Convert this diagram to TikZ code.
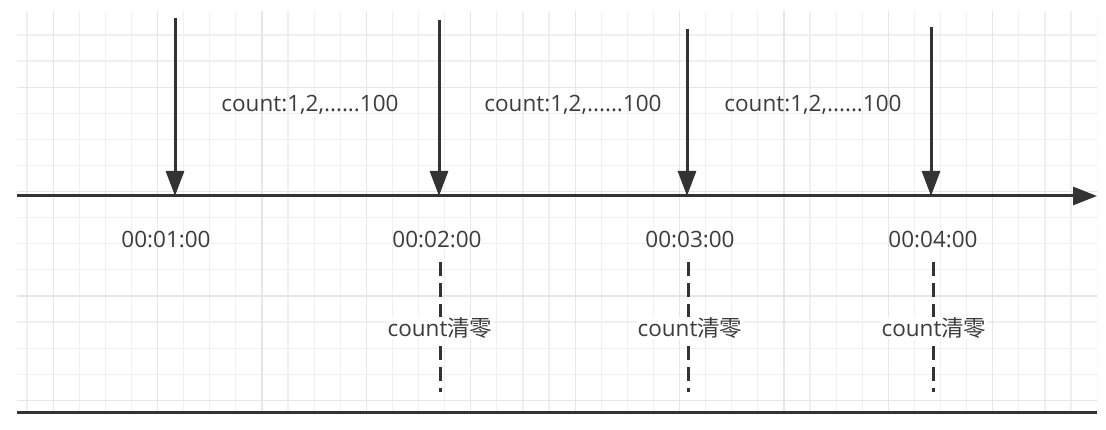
\documentclass[tikz,border=0pt]{standalone}
\usepackage{fontspec}
\setmainfont{Open Sans}
\newfontfamily\cjk{Noto Sans CJK SC}
\usetikzlibrary{arrows.meta}
\definecolor{ink}{HTML}{333333}
\definecolor{txt}{HTML}{3C3C3C}
\definecolor{gridminor}{HTML}{F0F0F0}
\definecolor{gridmajor}{HTML}{E6E6E6}
\tikzset{
  arr/.style={draw=ink, line width=3pt, -{Triangle[length=25pt,width=18pt]}},
  axisline/.style={draw=ink, line width=3pt, -{Triangle[length=24pt,width=18pt]}},
  resetline/.style={draw=ink, line width=3pt, dash pattern=on 14pt off 7pt},
  lbl/.style={text=txt, font=\fontsize{22.5}{27}\selectfont, inner sep=2pt},
  resetlbl/.style={lbl, fill=white, inner sep=1pt},
}
\begin{document}
\begin{tikzpicture}[x=1pt,y=-1pt]
\useasboundingbox (0,0) rectangle (1106,430);
% grid
\begin{scope}
\clip (17,11) rectangle (1097,412);
\foreach \k in {0,...,41} {
  \pgfmathsetmacro{\xx}{27+26.1*\k}
  \draw[gridminor, line width=1.2pt] (\xx,11) -- (\xx,412);
}
\foreach \k in {0,...,14} {
  \pgfmathsetmacro{\yy}{35+26.1*\k}
  \draw[gridminor, line width=1.2pt] (17,\yy) -- (1097,\yy);
}
\foreach \k in {1,5,...,41} {
  \pgfmathsetmacro{\xx}{27+26.1*\k}
  \draw[gridmajor, line width=1.2pt] (\xx,11) -- (\xx,412);
}
\foreach \k in {2,6,10,14} {
  \pgfmathsetmacro{\yy}{35+26.1*\k}
  \draw[gridmajor, line width=1.2pt] (17,\yy) -- (1097,\yy);
}
\end{scope}
% bottom line
\coordinate (bL) at (17,412);
\coordinate (bR) at (1097,412);
\draw[ink, line width=3pt] (bL) -- (bR);
% axis
\coordinate (axL) at (17,196);
\coordinate (axR) at (1097,196);
\draw[axisline] (axL) -- (axR);
% ticks
\coordinate (t1) at (175,196);
\coordinate (t2) at (439,196);
\coordinate (t3) at (687,196);
\coordinate (t4) at (931,196);
\coordinate (a1) at (175,18);
\coordinate (a2) at (439,20);
\coordinate (a3) at (687,29);
\coordinate (a4) at (931,27);
\draw[arr] (a1) -- (t1);
\draw[arr] (a2) -- (t2);
\draw[arr] (a3) -- (t3);
\draw[arr] (a4) -- (t4);
% count labels
\node[lbl] (c1) at (310,105) {count:1,2,......100};
\node[lbl] (c2) at (573,105) {count:1,2,......100};
\node[lbl] (c3) at (813,105) {count:1,2,......100};
% time labels
\node[lbl] (h1) at (166,240) {00:01:00};
\node[lbl] (h2) at (437,240) {00:02:00};
\node[lbl] (h3) at (690,240) {00:03:00};
\node[lbl] (h4) at (933,240) {00:04:00};
% reset dashed lines
\coordinate (d2t) at (440,262);
\coordinate (d2b) at (440,392);
\coordinate (d3t) at (688,262);
\coordinate (d3b) at (688,392);
\coordinate (d4t) at (933,262);
\coordinate (d4b) at (933,392);
\draw[resetline] (d2t) -- (d2b);
\draw[resetline] (d3t) -- (d3b);
\draw[resetline] (d4t) -- (d4b);
\node[resetlbl] (r2) at (440,328) {count{\cjk 清零}};
\node[resetlbl] (r3) at (690,328) {count{\cjk 清零}};
\node[resetlbl] (r4) at (934,328) {count{\cjk 清零}};
\end{tikzpicture}
\end{document}
